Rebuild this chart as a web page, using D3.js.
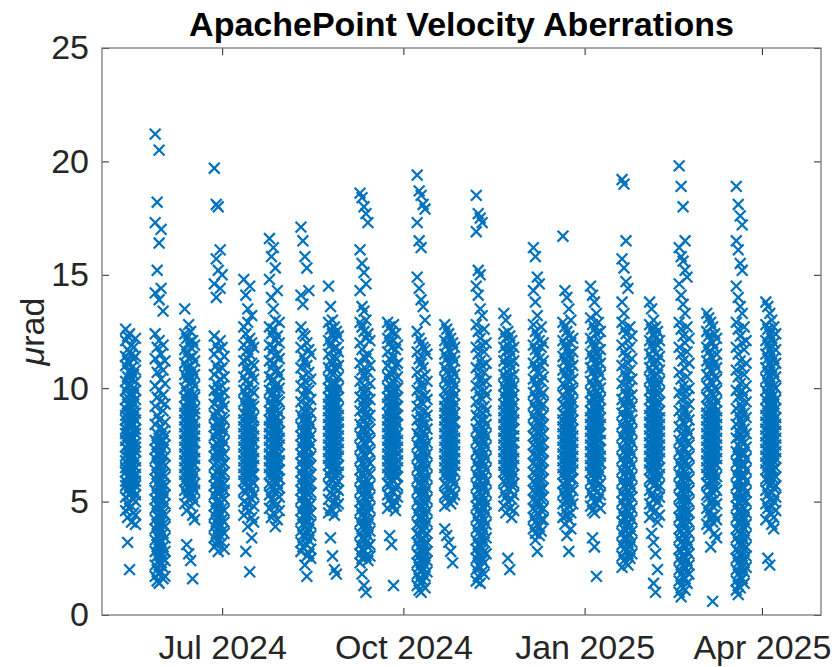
<!DOCTYPE html>
<html>
<head>
<meta charset="utf-8">
<script src="https://cdn.jsdelivr.net/npm/d3@7"></script>
<style>
  body { margin: 0; background: #fff; }
  text { font-family: "Liberation Sans", Arial, Helvetica, sans-serif; }
</style>
</head>
<body>
<svg id="chart" width="836" height="667"></svg>
<script>
// First night (UTC date) of each observing run.
const runStart = [
  "2024-05-13", "2024-05-28", "2024-06-12", "2024-06-27", "2024-07-12", "2024-07-25",
  "2024-08-10", "2024-08-24", "2024-09-09", "2024-09-23", "2024-10-08", "2024-10-22",
  "2024-11-07", "2024-11-21", "2024-12-06", "2024-12-21", "2025-01-04", "2025-01-20",
  "2025-02-03", "2025-02-18", "2025-03-04", "2025-03-19", "2025-04-03"
];

// Velocity aberration per observation, in units of 0.1 μrad; one inner list per night.
const run01 = [
  [126,121,114,110,103,99,95,91,88,86,82,80,77,74,70,68,65,63,59,57,52,46],
  [123,117,112,105,101,96,93,89,87,84,81,78,75,73,71,67,64,61,58,55,49,43,32],
  [124,116,111,107,102,97,92,90,86,83,80,79,76,72,69,66,62,60,56,53,47,20],
  [119,115,109,104,98,94,91,88,85,83,79,77,74,71,69,65,63,60,58,54,48,41],
  [118,113,106,100,97,93,90,87,84,81,78,75,73,70,66,64,61,59,55,51,45],
  [122,114,108,103,99,95,89,86,82,80,76,74,72,68,65,62,59,57,53,50,44,40]
];
const run02 = [
  [212,173,142,124,113,101,92,84,77,73,69,64,60,55,51,47,42,38,33,28,22,17],
  [182,152,118,107,96,88,80,75,71,66,62,58,53,49,44,40,35,31,26,20,15],
  [205,164,139,121,110,99,86,78,74,70,65,61,57,52,48,43,39,34,29,24,18,14],
  [170,144,115,104,94,83,76,72,68,63,59,54,50,46,41,37,32,27,23,19],
  [134,119,108,97,90,81,77,73,67,62,58,56,51,45,40,36,30,25,21,16],
  [112,102,93,85,79,75,70,66,61,57,53,49,44,39,34,28,24,17]
];
const run03 = [
  [135,124,117,111,106,100,96,92,89,86,83,80,77,74,71,68,65,62,59,55,49],
  [122,115,109,104,98,94,91,88,85,82,79,76,73,70,67,64,61,58,53,46,31],
  [128,120,113,107,102,97,93,90,87,84,81,78,75,72,69,66,63,60,56,51,27],
  [125,118,110,105,99,95,92,88,86,83,80,77,74,71,68,65,62,59,54,48,24],
  [121,114,108,103,97,94,90,87,84,81,78,76,73,70,67,63,60,57,52,44,16],
  [119,112,106,101,96,91,89,85,82,79,76,72,69,66,62,58,55,50,42]
];
const run04 = [
  [197,146,123,115,106,99,93,88,83,79,74,70,66,61,57,53,48,44,39,34,30],
  [181,157,140,119,110,102,96,90,85,81,76,72,67,63,59,55,50,46,41,36,31],
  [180,152,117,108,100,95,89,84,80,75,71,68,64,60,56,51,47,43,38,33,28],
  [161,144,121,112,104,97,91,86,82,77,73,69,65,62,58,54,49,45,40,35],
  [150,118,109,101,94,87,83,78,74,70,66,62,57,52,47,42,37,32],
  [114,105,98,92,86,81,76,71,67,63,58,55,51,46,41,36,29]
];
const run05 = [
  [148,127,119,112,105,99,94,89,86,83,80,77,74,71,68,65,62,59,55,50,44],
  [141,124,116,109,103,97,92,88,85,82,79,76,73,70,67,64,61,58,54,47,28],
  [135,129,121,113,107,100,95,90,87,84,81,78,75,72,69,66,63,60,56,49,39],
  [145,122,115,108,102,96,91,88,84,81,78,75,72,69,66,63,60,57,52,46,19],
  [132,120,111,106,99,93,89,86,83,80,77,74,71,68,65,62,59,55,51,43,34],
  [118,110,104,98,92,87,82,79,76,72,69,66,62,58,53,48,41]
];
const run06 = [
  [166,148,127,119,112,105,99,94,90,86,83,80,77,74,71,68,65,62,58,53,47],
  [158,140,124,116,109,103,97,92,88,85,82,79,76,73,70,67,64,61,57,51,43],
  [162,135,126,118,111,104,98,93,89,86,82,79,76,72,69,66,63,60,56,50,45],
  [153,130,121,114,107,101,96,91,87,84,81,78,75,71,68,65,62,59,54,48,39],
  [143,123,115,108,102,95,90,87,83,80,77,74,70,67,64,61,58,55,49,42],
  [129,120,113,106,100,94,89,85,81,78,75,71,68,64,60,56,52,46]
];
const run07 = [
  [171,141,127,118,109,101,94,88,83,79,75,71,67,63,59,55,51,46,42,37,32,28],
  [165,137,124,114,105,97,91,86,81,77,73,69,65,61,57,53,49,44,40,35,30],
  [158,123,112,103,96,90,85,80,76,72,68,64,60,56,52,48,43,39,34,22],
  [153,120,110,100,93,87,82,78,74,70,66,62,58,54,50,45,41,36,31,26,17],
  [143,117,107,99,92,86,81,77,73,69,65,61,57,53,48,44,38,33,27],
  [115,104,95,89,84,79,75,70,66,62,58,54,49,45,40,35,29,25]
];
const run08 = [
  [145,129,121,115,109,104,100,96,93,90,87,84,81,78,75,72,69,66,62,57,51,45],
  [136,126,119,112,107,102,98,95,92,89,86,83,80,77,74,71,68,64,60,54,47,34],
  [130,124,117,111,106,101,97,94,91,88,85,82,79,76,73,70,67,63,59,53,46,26],
  [127,122,114,109,103,99,95,92,89,86,83,80,77,74,71,67,64,61,56,50,44,20],
  [125,118,113,108,102,97,93,90,87,84,81,78,75,72,69,65,62,58,52,48,18],
  [123,116,110,105,100,96,91,88,85,82,79,76,73,70,66,63,59,55,49]
];
const run09 = [
  [186,161,143,129,120,111,103,96,90,84,79,74,69,64,60,55,50,46,41,36,31,27,23],
  [184,155,136,127,117,108,100,93,87,82,77,72,67,62,58,53,48,44,39,34,29,25,18],
  [180,151,134,125,114,106,98,91,86,81,76,71,66,61,57,52,47,43,38,33,28,13],
  [177,146,130,122,113,104,96,89,84,80,75,70,65,60,56,51,46,42,37,32,26,10],
  [173,124,115,107,99,92,87,83,78,73,68,63,59,54,49,45,40,35,30,24],
  [121,110,102,95,88,82,77,72,67,62,57,52,47,42,37,31,26]
];
const run10 = [
  [129,122,116,110,105,100,96,93,89,86,83,80,77,74,71,68,65,62,58,53,47],
  [127,120,113,107,102,98,94,91,88,85,82,79,76,73,70,67,64,61,57,51,35],
  [125,118,112,106,101,97,93,90,87,84,81,78,75,72,69,66,63,60,55,49,31],
  [128,121,114,108,103,99,95,92,89,86,83,80,77,74,70,66,62,59,54,48,13],
  [124,117,110,104,99,95,91,88,85,82,79,76,73,70,67,64,61,56,50,46],
  [119,111,105,100,96,92,88,84,80,77,74,71,68,65,61,57,52]
];
const run11 = [
  [194,173,149,125,116,107,99,92,86,80,75,70,65,60,55,50,45,40,36,32,27,23,18,13],
  [187,165,144,122,113,104,96,89,83,78,73,68,63,58,53,48,43,39,35,30,26,21,16,11],
  [185,162,139,120,111,102,94,87,82,77,72,67,62,57,52,47,42,38,33,29,24,19,14,10],
  [181,136,118,109,100,93,86,81,76,71,66,61,56,51,46,41,37,34,31,28,25,20,15],
  [179,130,117,106,97,90,84,79,74,69,64,59,54,49,44,39,35,31,27,22,17,12],
  [115,103,95,88,82,76,71,66,61,56,51,46,41,36,32,28,24,19]
];
const run12 = [
  [128,121,115,109,104,99,95,92,89,86,83,80,77,74,71,68,65,62,58,53,48,38],
  [126,119,113,107,102,98,94,91,88,85,82,79,76,73,70,67,64,61,57,52,35],
  [124,117,111,106,101,97,93,90,87,84,81,78,75,72,69,66,63,60,56,50,32],
  [122,116,110,105,100,96,92,89,86,83,80,77,74,71,68,65,62,59,54,49,28],
  [120,114,108,103,99,95,91,88,85,82,79,76,73,70,67,64,60,55,51,23],
  [118,112,106,101,97,93,89,85,81,78,75,72,69,66,63,58,53]
];
const run13 = [
  [185,169,145,128,118,109,101,94,88,82,77,72,67,62,57,52,48,43,38,33,29,25,20,15],
  [177,152,141,125,115,106,98,91,85,80,75,70,65,60,55,50,46,41,36,31,27,22,17],
  [175,150,135,122,112,104,96,90,84,79,74,69,64,59,54,49,44,40,35,30,26,21,14],
  [173,132,119,110,102,95,89,83,78,73,68,63,58,53,48,43,39,34,29,24,19],
  [126,116,107,99,92,86,81,76,71,66,61,56,51,47,42,37,32,28,23,18],
  [120,111,103,97,90,84,79,74,69,64,59,54,49,45,40,34,27]
];
const run14 = [
  [133,124,118,112,106,101,97,93,90,87,84,81,78,75,72,69,66,63,59,54,48],
  [130,122,116,110,104,99,95,92,89,86,83,80,77,74,71,68,65,62,58,52,45],
  [125,119,113,107,102,98,94,91,88,85,82,79,76,73,70,67,64,61,56,50,25],
  [123,117,111,105,100,96,92,89,86,83,80,77,74,71,68,65,62,59,55,47,20],
  [121,115,109,103,99,95,91,88,85,82,79,76,73,70,67,64,60,57,51,43],
  [118,112,106,101,97,93,89,86,82,79,76,72,69,66,62,58,53,46]
];
const run15 = [
  [162,143,128,119,111,104,98,93,88,83,79,75,71,67,63,59,55,51,47,43,38],
  [158,138,125,117,109,102,96,91,86,82,78,74,70,66,62,58,54,50,46,41,36,33],
  [149,132,123,115,107,100,95,90,85,81,77,73,69,65,61,57,53,49,45,40,28],
  [146,121,113,106,99,94,89,84,80,76,72,68,64,60,56,52,48,44,39,35],
  [127,118,110,103,97,92,87,83,79,75,71,67,63,59,55,51,46,42,37],
  [120,112,105,98,93,88,84,80,76,72,68,64,60,56,52,47,42]
];
const run16 = [
  [167,129,121,114,108,102,97,93,89,86,83,80,77,74,71,68,65,62,58,54,49,43],
  [143,127,119,112,106,101,96,92,88,85,82,79,76,73,70,67,64,61,57,52,46,40],
  [140,125,117,110,104,99,95,91,87,84,81,78,75,72,69,66,63,59,55,50,44,35],
  [135,123,115,109,103,98,94,90,86,83,80,77,74,71,68,65,62,58,53,48,42,28],
  [130,120,113,107,100,96,92,88,84,81,78,75,72,69,66,63,60,56,51,45,38],
  [122,116,110,104,99,94,90,86,82,79,76,73,70,67,64,60,55,49]
];
const run17 = [
  [145,131,122,115,109,103,98,94,90,87,84,81,78,75,72,69,66,63,59,54,48],
  [141,128,120,113,107,101,96,92,89,86,83,80,77,74,71,68,65,62,57,52,46,34],
  [138,126,118,111,105,100,95,91,88,85,82,79,76,73,70,67,64,60,56,50,45,30],
  [133,124,116,110,104,99,94,90,87,84,81,78,75,72,69,66,63,59,54,49,17],
  [129,121,114,108,102,97,93,89,86,83,80,77,74,71,68,65,61,57,51],
  [125,117,111,106,100,95,91,87,84,80,77,73,70,67,63,58,53,47]
];
const run18 = [
  [192,157,138,129,119,110,102,95,89,84,79,74,69,64,59,54,50,45,41,36,31,26,21],
  [190,153,133,126,116,107,99,93,87,82,77,72,67,62,57,52,48,43,38,34,29,24],
  [165,147,124,114,105,97,91,86,81,76,71,66,61,56,51,47,42,37,33,28,23],
  [144,121,111,103,96,90,85,80,75,70,65,60,55,50,46,41,36,32,27,22],
  [127,118,108,100,94,88,83,78,73,68,63,58,53,49,44,39,35,30,25],
  [123,113,104,97,92,86,81,76,71,66,61,56,52,47,42,37,32,27]
];
const run19 = [
  [138,128,121,115,109,104,99,95,91,88,85,82,79,76,73,70,67,64,60,55,49,43],
  [135,126,119,113,107,102,97,93,90,87,84,81,78,75,72,69,66,63,59,53,47,36],
  [130,124,117,111,105,100,96,92,89,86,83,80,77,74,71,68,65,61,57,51,45,32,14],
  [127,122,115,109,103,98,94,91,88,85,82,79,76,73,70,67,63,58,52,46,27,10],
  [125,119,112,106,101,97,93,89,86,83,80,77,74,71,68,64,60,56,50,41,20],
  [121,114,108,103,98,94,90,87,84,81,78,75,72,69,65,62,57,52,44]
];
const run20 = [
  [198,162,146,129,118,107,98,90,83,77,72,67,62,57,52,47,43,38,34,29,25,20,15,10],
  [189,158,141,126,115,104,95,87,80,75,70,65,60,55,51,46,41,37,32,28,23,18,13,8],
  [180,156,137,123,112,101,92,85,79,74,69,64,59,54,49,44,40,35,31,26,22,17,12],
  [165,152,133,120,109,99,90,84,78,73,68,63,58,53,48,44,39,34,30,25,21,16,11],
  [149,127,116,105,96,88,82,76,71,66,61,56,51,46,42,37,33,28,24,19,14],
  [122,111,100,93,86,80,75,70,65,60,55,50,45,41,36,31,27,22,18]
];
const run21 = [
  [133,125,118,112,106,101,96,92,89,86,83,80,77,74,71,68,65,62,58,53,47,40],
  [131,123,116,110,105,100,95,91,88,85,82,79,76,73,70,67,64,61,57,52,45,38],
  [129,121,114,108,103,98,94,90,87,84,81,78,75,72,69,66,63,59,55,50,43,30],
  [127,120,113,107,102,97,93,89,86,83,80,77,74,71,68,65,62,58,54,48,41,6],
  [124,118,111,105,100,96,92,88,85,82,79,76,73,70,67,63,60,56,51,44,36],
  [122,115,109,104,99,94,90,87,84,81,78,75,72,69,66,61,55,49,42,34]
];
const run22 = [
  [189,165,145,129,118,108,99,91,84,78,72,67,62,57,52,48,43,38,34,29,25,20,15,11],
  [181,161,140,126,115,105,96,88,81,75,70,65,60,55,50,46,41,37,32,28,23,18,13,9],
  [176,155,136,123,112,102,93,86,79,74,69,64,59,54,49,45,40,36,31,27,22,17,12],
  [172,152,133,120,109,99,91,84,77,72,67,62,57,53,48,44,39,35,30,26,21,16],
  [127,117,106,97,89,82,76,71,66,61,56,51,47,42,38,33,29,24,19,14],
  [121,111,101,94,87,80,74,69,64,59,54,50,45,40,35,30,26,21]
];
const run23 = [
  [138,128,121,115,109,104,99,95,91,88,85,82,79,76,73,70,67,64,60,55,49,42],
  [136,126,119,113,107,102,97,93,90,87,84,81,78,75,72,69,66,63,59,53,47,25],
  [133,124,117,111,105,100,96,92,89,86,83,80,77,74,71,68,65,61,57,51,45,22],
  [130,122,115,109,103,98,94,91,88,85,82,79,76,73,70,67,64,59,54,48,40],
  [127,120,113,107,101,97,93,89,86,83,80,77,74,71,68,64,60,56,50,43,38],
  [124,117,111,105,100,95,91,87,84,81,78,75,72,69,65,61,57,52,46]
];

// Extra observations from the busiest nights (same units), one list per run, plotted on the run's middle nights.
const runCore = [
  [92,87,83,79,75,72,68,64,61],
  [76,71,66,60,56,52,47,43,38,33,27,22],
  [94,89,85,81,77,73,70,66,62],
  [96,91,85,80,75,70,64,59,54,49,44,39],
  [93,88,84,80,76,73,69,65,61],
  [100,95,91,87,83,79,76,72,68,63],
  [89,84,79,74,69,64,59,54,49,44],
  [102,97,93,89,85,81,77,73,69],
  [95,88,82,76,70,64,58,52,46,40,34],
  [97,93,89,85,81,77,73,69,65],
  [84,78,72,66,60,54,48,43,38,33,28,23],
  [96,92,88,84,80,76,72,68,64],
  [86,80,74,68,62,56,50,45,40,35,30,25],
  [97,93,89,85,81,77,73,69,65],
  [90,85,80,75,70,65,60,55,50],
  [94,90,86,82,78,74,70,66,62],
  [95,91,87,83,79,75,71,67,63],
  [88,82,76,70,64,58,52,46,40,34],
  [96,92,88,84,80,76,72,68,64],
  [79,73,67,61,56,51,46,41,36,31,26,21,16],
  [92,88,84,80,76,72,68,64,60],
  [77,71,66,61,56,51,46,41,36,31,26,21,16],
  [95,91,87,83,79,75,71,67,63]
];

const runs = [run01, run02, run03, run04, run05, run06, run07, run08, run09, run10, run11, run12,
              run13, run14, run15, run16, run17, run18, run19, run20, run21, run22, run23];

// Axis settings.
const xDomain = ["2024-05-01", "2025-05-01"];
const yDomain = [0, 25];
const xTickDates = ["2024-07-01", "2024-10-01", "2025-01-01", "2025-04-01"];
const xTickLabels = ["Jul 2024", "Oct 2024", "Jan 2025", "Apr 2025"];
const yTicks = [0, 5, 10, 15, 20, 25];
const titleText = "ApachePoint Velocity Aberrations";

const W = 836, H = 667;
const plot = { left: 102, right: 821, top: 48, bottom: 615 };
const blue = "#0072BD";
const ink = "#262626";

const parse = d3.utcParse("%Y-%m-%d");
const x = d3.scaleUtc().domain(xDomain.map(parse)).range([plot.left, plot.right]);
const y = d3.scaleLinear().domain(yDomain).range([plot.bottom, plot.top]);

const svg = d3.select("#chart");

// Flatten runs into individual observations.
const points = [];
runs.forEach((run, i) => {
  const first = parse(runStart[i]);
  run.forEach((night, j) => {
    const t = d3.utcDay.offset(first, j);
    night.forEach(v => points.push({ t, v: v / 10 }));
  });
  // busiest-night extras sit between nights 2 and 3 of the run
  const mid = d3.utcHour.offset(first, 60);
  runCore[i].forEach(v => points.push({ t: mid, v: v / 10 }));
});

// Markers
const r = 5.4;
svg.append("g")
  .attr("fill", "none")
  .attr("stroke", blue)
  .attr("stroke-width", 2.2)
  .selectAll("path")
  .data(points)
  .join("path")
  .attr("d", d => {
    const cx = x(d.t), cy = y(d.v);
    return `M${cx - r},${cy - r}L${cx + r},${cy + r}M${cx - r},${cy + r}L${cx + r},${cy - r}`;
  });

// Axes (ticks point inward, mirrored on all four sides)
const fontSize = 34;
const tickLen = 7;

const xAxis = svg.append("g")
  .attr("transform", `translate(0,${plot.bottom})`)
  .call(d3.axisBottom(x)
    .tickValues(xTickDates.map(parse))
    .tickFormat((d, i) => xTickLabels[i])
    .tickSizeInner(-tickLen).tickSizeOuter(0).tickPadding(20));

const xAxisTop = svg.append("g")
  .attr("transform", `translate(0,${plot.top})`)
  .call(d3.axisTop(x).tickValues(xTickDates.map(parse)).tickFormat("")
    .tickSizeInner(-tickLen).tickSizeOuter(0));

const yAxis = svg.append("g")
  .attr("transform", `translate(${plot.left},0)`)
  .call(d3.axisLeft(y).tickValues(yTicks).tickFormat(d3.format("d"))
    .tickSizeInner(-tickLen).tickSizeOuter(0).tickPadding(13));

const yAxisRight = svg.append("g")
  .attr("transform", `translate(${plot.right},0)`)
  .call(d3.axisRight(y).tickValues(yTicks).tickFormat("")
    .tickSizeInner(-tickLen).tickSizeOuter(0));

[xAxis, xAxisTop, yAxis, yAxisRight].forEach(g => {
  g.select(".domain").remove();
  g.selectAll(".tick line").attr("stroke", ink).attr("stroke-width", 1);
  g.selectAll(".tick text")
    .attr("fill", ink)
    .attr("font-size", fontSize)
    .attr("font-family", "'Liberation Sans', Arial, Helvetica, sans-serif");
});

// Axes box
svg.append("rect")
  .attr("x", plot.left).attr("y", plot.top)
  .attr("width", plot.right - plot.left).attr("height", plot.bottom - plot.top)
  .attr("fill", "none").attr("stroke", "#7a7a7a").attr("stroke-width", 1.3);

// Y label: μrad with italic mu
const yl = svg.append("text")
  .attr("transform", `translate(44,${(plot.top + plot.bottom) / 2}) rotate(-90)`)
  .attr("text-anchor", "middle")
  .attr("font-size", fontSize)
  .attr("fill", ink);
yl.append("tspan").attr("font-style", "italic").text("μ");
yl.append("tspan").text("rad");

// Title
svg.append("text")
  .attr("x", (plot.left + plot.right) / 2)
  .attr("y", 36)
  .attr("text-anchor", "middle")
  .attr("font-size", 34)
  .attr("font-weight", "bold")
  .attr("fill", "#000")
  .text(titleText);
</script>
</body>
</html>
